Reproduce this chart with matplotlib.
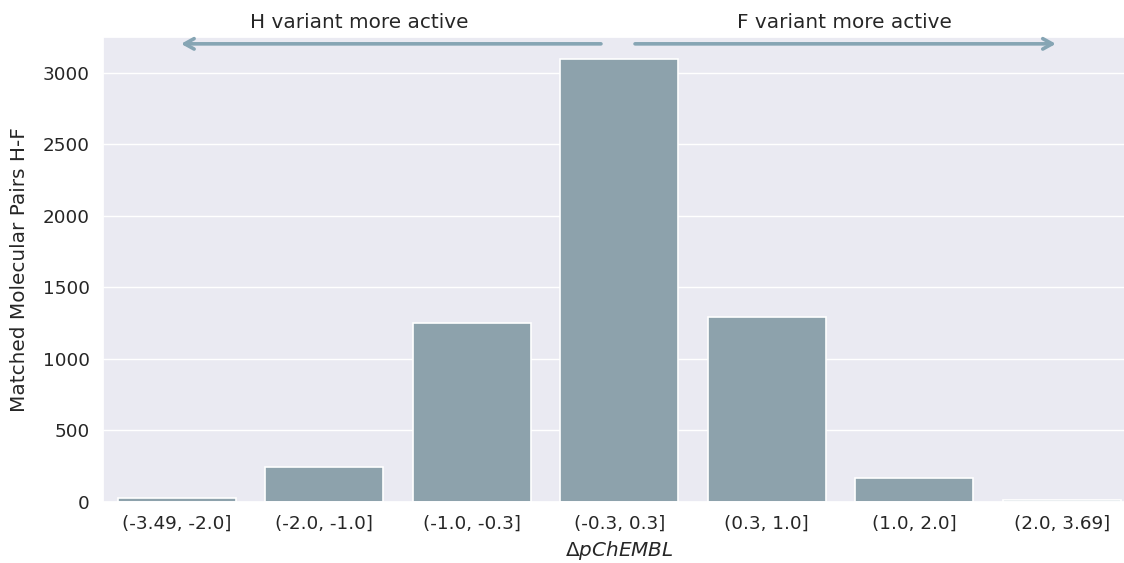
import matplotlib
matplotlib.use("Agg")
import matplotlib.pyplot as plt
import seaborn as sns
from matplotlib.patches import FancyArrowPatch

categories = ["(-3.49, -2.0]", "(-2.0, -1.0]", "(-1.0, -0.3]", "(-0.3, 0.3]",
              "(0.3, 1.0]", "(1.0, 2.0]", "(2.0, 3.69]"]
counts = [28, 246, 1248, 3098, 1292, 168, 15]
left_label = "H variant more active"
right_label = "F variant more active"

sns.set_theme(style="darkgrid", font_scale=1.2)
plt.rcParams['font.family'] = ['DejaVu Sans']

bar_color = "#8da2ac"
arrow_color = "#86a5b4"

fig = plt.figure(figsize=(11.24, 5.63), dpi=100)
ax = fig.add_axes([103/1124, 61/563, 1032.5/1124, (502-36.7)/563])

x = list(range(len(categories)))
ax.bar(x, counts, width=0.8, color=bar_color, edgecolor="white", linewidth=1.2, zorder=2)
ax.set_xticks(x)
ax.set_xticklabels(categories)
ax.set_xlim(-0.5, 6.5)
ax.set_ylim(0, max(counts) * 1.05)
ax.grid(axis="x", visible=False)
ax.set_ylabel("Matched Molecular Pairs H-F", labelpad=10)
ax.set_xlabel(r"$\Delta pChEMBL$")

# direction arrows
y_arrow = 3203
for (x0, x1) in [(2.876, 0.029), (3.107, 5.96)]:
    arr = FancyArrowPatch((x0, y_arrow), (x1, y_arrow), transform=ax.transData,
                          arrowstyle="->,head_length=0.45,head_width=0.25",
                          mutation_scale=15, color=arrow_color, lw=2.6,
                          clip_on=False, zorder=5, shrinkA=0, shrinkB=0)
    ax.add_patch(arr)

ax.text(1.236, 3352, left_label, ha="center", va="center", fontsize=14.4,
        color="#262626", clip_on=False)
ax.text(4.524, 3352, right_label, ha="center", va="center", fontsize=14.4,
        color="#262626", clip_on=False)

fig.savefig("out.png", dpi=100)
